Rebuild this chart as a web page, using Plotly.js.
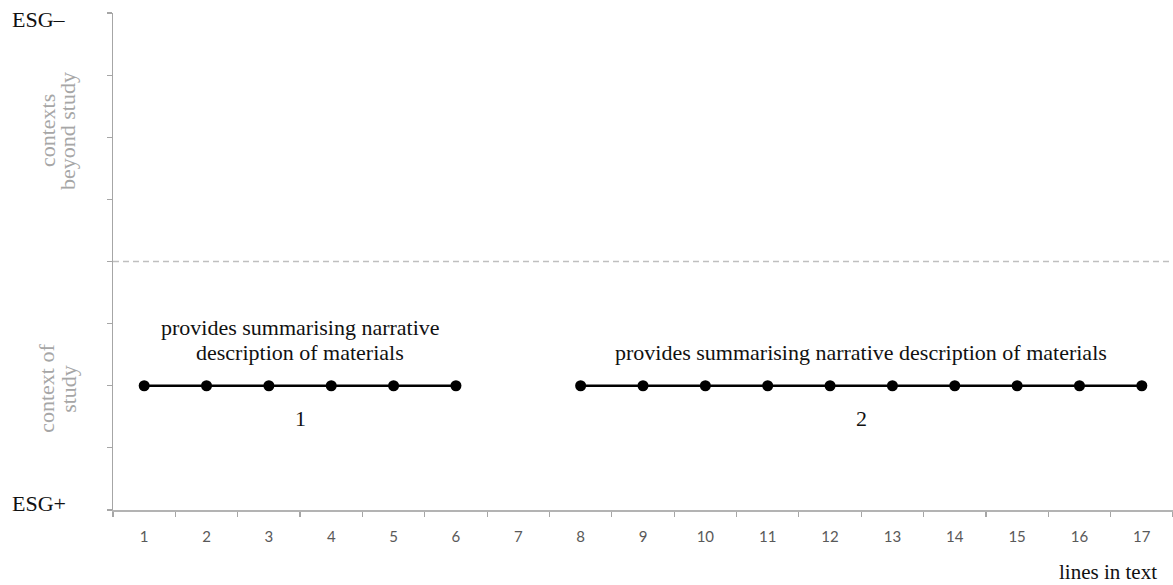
<!DOCTYPE html>
<html>
<head>
<meta charset="utf-8">
<script src="https://cdn.plot.ly/plotly-3.0.1.min.js"></script>
<style>html,body{margin:0;padding:0;background:#fff;}#chart{width:1173px;height:585px;}</style>
</head>
<body>
<div id="chart"></div>
<script>
// ---- data ----
const lineNumbers = [1,2,3,4,5,6,7,8,9,10,11,12,13,14,15,16,17];
const tickLabels = ["1","2","3","4","5","6","7","8","9","10","11","12","13","14","15","16","17"];
const segment1Lines = [1,2,3,4,5,6];
const segment2Lines = [8,9,10,11,12,13,14,15,16,17];
const segmentLevel = 2;            // "context of study"
const boundaryLevel = 4;           // dashed divider
const segmentIds = ["1","2"];
const segment1Description = ["provides summarising narrative","description of materials"];
const segment2Description = ["provides summarising narrative description of materials"];
const zoneLabels = [["contexts","beyond study"],["context of","study"]];
const zoneLevels = [6.1, 1.95];
const yMax = 8;
const yTicks = [0,1,2,3,4,5,6,7,8];
const topLabel = "ESG–";
const bottomLabel = "ESG+";
const xTitle = "lines in text";

// ---- derived ----
const segments = [segment1Lines, segment2Lines];
const descriptions = [segment1Description, segment2Description];
const boundaries = lineNumbers.map(v => v - 0.5).concat([lineNumbers[lineNumbers.length-1] + 0.5]);

const serif = "Liberation Serif, Times New Roman, serif";

const traces = segments.map(seg => ({
  x: seg,
  y: seg.map(() => segmentLevel),
  type: "scatter",
  mode: "lines+markers",
  line: {color: "#000", width: 2.5},
  marker: {color: "#000", size: 11},
  hoverinfo: "x+y",
  showlegend: false
}));

const annotations = [];
segments.forEach((seg, i) => {
  const mid = (seg[0] + seg[seg.length-1]) / 2;
  const lines = descriptions[i];
  lines.forEach((t, j) => {
    const fromBottom = lines.length - 1 - j;
    annotations.push({
      x: mid, y: segmentLevel, xref: "x", yref: "y",
      text: t, showarrow: false, xanchor: "center", yanchor: "middle",
      yshift: 33 + fromBottom * 25,
      font: {family: serif, size: 22, color: "#111"}
    });
  });
  annotations.push({
    x: mid, y: segmentLevel, xref: "x", yref: "y",
    text: segmentIds[i], showarrow: false, xanchor: "center", yanchor: "middle",
    yshift: -33,
    font: {family: serif, size: 22, color: "#111"}
  });
});

const zoneShifts = [[-66, -46], [-66, -44]];
zoneLabels.forEach((lines, i) => {
  lines.forEach((t, j) => {
    annotations.push({
      x: 0, y: zoneLevels[i], xref: "paper", yref: "y",
      text: t, showarrow: false, textangle: -90,
      xanchor: "center", yanchor: "middle",
      xshift: zoneShifts[i][j],
      font: {family: serif, size: 22, color: "#a6a6a6"}
    });
  });
});

annotations.push({
  x: 0, y: yMax, xref: "paper", yref: "y", text: topLabel, showarrow: false,
  xanchor: "left", yanchor: "middle", xshift: -103, yshift: -6,
  font: {family: serif, size: 22, color: "#111"}
});
annotations.push({
  x: 0, y: 0, xref: "paper", yref: "y", text: bottomLabel, showarrow: false,
  xanchor: "left", yanchor: "middle", xshift: -103, yshift: 7,
  font: {family: serif, size: 22, color: "#111"}
});
annotations.push({
  x: 1, y: 0, xref: "paper", yref: "paper", text: xTitle, showarrow: false,
  xanchor: "right", yanchor: "middle", xshift: -14, yshift: -62,
  font: {family: serif, size: 21, color: "#111"}
});

const layout = {
  width: 1173, height: 585,
  margin: {l: 113, r: 0, t: 13, b: 75, pad: 0},
  paper_bgcolor: "#fff", plot_bgcolor: "#fff",
  showlegend: false,
  xaxis: {
    range: [boundaries[0], boundaries[boundaries.length-1]],
    tickvals: lineNumbers, ticktext: tickLabels,
    ticks: "", showgrid: false, zeroline: false,
    showline: true, linecolor: "#b3b3b3", linewidth: 1.5,
    tickfont: {family: "Lato, Open Sans, sans-serif", size: 15, color: "#595959"},
    ticklabelstandoff: 12,
    minor: {tickvals: boundaries, ticks: "outside", ticklen: 5, tickwidth: 1.2, tickcolor: "#a6a6a6", showgrid: false},
    fixedrange: true
  },
  yaxis: {
    range: [0, yMax], tickvals: yTicks, showticklabels: false,
    ticks: "outside", ticklen: 5, tickwidth: 1.2, tickcolor: "#a6a6a6",
    showgrid: false, zeroline: false,
    showline: true, linecolor: "#a6a6a6", linewidth: 1.5,
    fixedrange: true
  },
  shapes: [{
    type: "line", xref: "paper", yref: "y", x0: 0, x1: 1, y0: boundaryLevel, y1: boundaryLevel,
    line: {color: "#bfbfbf", width: 1.5, dash: "6px,4px"}, layer: "below"
  }],
  annotations: annotations
};

Plotly.newPlot("chart", traces, layout, {displayModeBar: false, staticPlot: true});
</script>
</body>
</html>
